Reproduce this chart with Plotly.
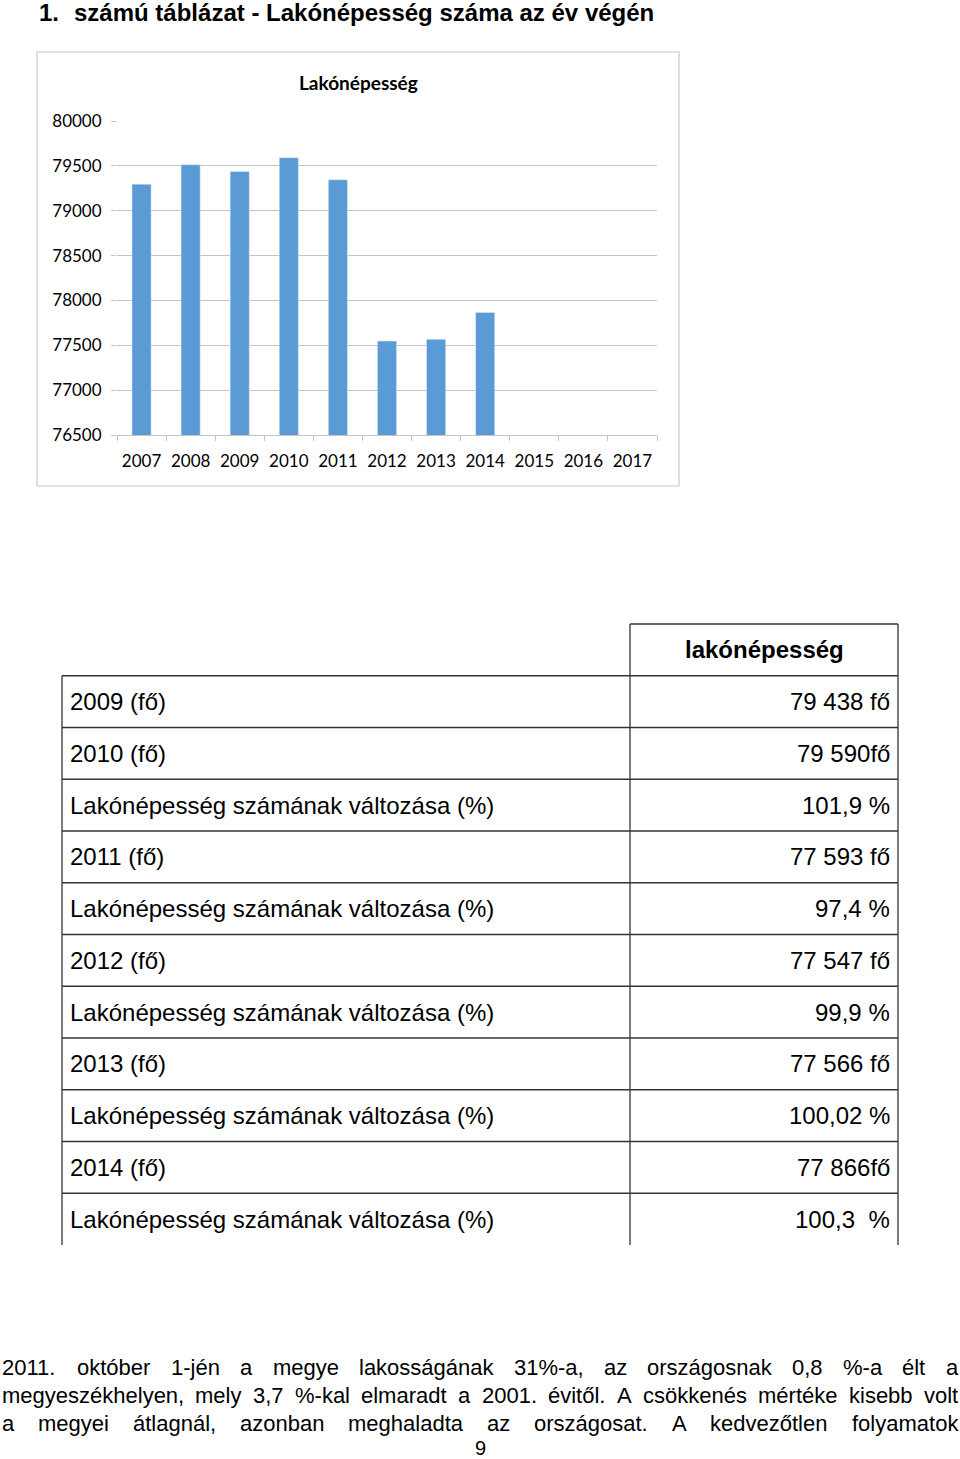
import plotly.graph_objects as go

# chart data
years = ['2007', '2008', '2009', '2010', '2011', '2012', '2013', '2014', '2015', '2016', '2017']
population = [79296, 79513, 79438, 79590, 79345, 77547, 77566, 77866, None, None, None]
y_ticks = [76500, 77000, 77500, 78000, 78500, 79000, 79500, 80000]
chart_title = 'Lakónépesség'

# table data
table_header = 'lakónépesség'
row_labels = ['2009 (fő)', '2010 (fő)', 'Lakónépesség számának változása (%)', '2011 (fő)',
              'Lakónépesség számának változása (%)', '2012 (fő)', 'Lakónépesség számának változása (%)',
              '2013 (fő)', 'Lakónépesség számának változása (%)', '2014 (fő)',
              'Lakónépesség számának változása (%)']
row_values = ['79 438 fő', '79 590fő', '101,9 %', '77 593 fő', '97,4 %', '77 547 fő', '99,9 %',
              '77 566 fő', '100,02 %', '77 866fő', '100,3  %']

# page text
page_title_num = '1.'
page_title = 'számú táblázat - Lakónépesség száma az év végén'
paragraph_lines = [
    '2011. október 1-jén a megye lakosságának 31%-a, az országosnak 0,8 %-a élt a',
    'megyeszékhelyen, mely 3,7 %-kal elmaradt a 2001. évitől. A csökkenés mértéke kisebb volt',
    'a megyei átlagnál, azonban meghaladta az országosat. A kedvezőtlen folyamatok',
]
page_number = '9'

W, H = 960, 1459
SANS = 'Liberation Sans, Arial, sans-serif'
CHART_FONT = 'Lato, Calibri, sans-serif'
GRID = '#C4C4C4'

# arial advance widths (per 1000 em) - used to justify the paragraph lines
ARIAL_W = {' ': 278, '.': 278, ',': 278, '-': 333, '%': 889, '(': 333, ')': 333,
           'a': 556, 'b': 556, 'c': 500, 'd': 556, 'e': 556, 'f': 278, 'g': 556, 'h': 556,
           'i': 222, 'j': 222, 'k': 500, 'l': 222, 'm': 833, 'n': 556, 'o': 556, 'p': 556,
           'q': 556, 'r': 333, 's': 500, 't': 278, 'u': 556, 'v': 500, 'w': 722, 'x': 500,
           'y': 500, 'z': 500, 'á': 556, 'é': 556, 'í': 278, 'ó': 556, 'ö': 556, 'ő': 556,
           'ú': 556, 'ü': 556, 'ű': 556, 'A': 667, 'L': 556}


def text_width(s, size):
    return sum(ARIAL_W.get(c, 556) for c in s) * size / 1000


def px(x):
    return x / W


def py(y):
    return 1 - y / H


def note(text, x, y, size, anchor='left', bold=False, family=SANS):
    if bold:
        text = '<b>' + text + '</b>'
    return dict(text=text, x=px(x), y=py(y), xref='paper', yref='paper', xanchor=anchor,
                yanchor='middle', showarrow=False, font=dict(family=family, size=size, color='black'))


def line(x0, y0, x1, y1, color='#333333', width=1.3):
    return dict(type='line', xref='paper', yref='paper', x0=px(x0), y0=py(y0), x1=px(x1), y1=py(y1),
                line=dict(color=color, width=width))


fig = go.Figure()
fig.add_trace(go.Bar(x=years, y=population, marker_color='#5B9BD5', width=0.39))

annotations = []
shapes = []

# page heading
annotations.append(note(page_title_num, 37, 13, 24, bold=True))
annotations.append(note(page_title, 72, 13, 24, bold=True))

# chart frame + title
shapes.append(dict(type='rect', xref='paper', yref='paper', x0=px(37), y0=py(486), x1=px(679), y1=py(52),
                   line=dict(color='#C8C8C8', width=1.2)))
annotations.append(note(chart_title, 358, 83, 19, anchor='center', bold=True, family=CHART_FONT))

# table
top, row_h = 624, 51.75
left, mid, right = 62, 630, 898
bottom = top + row_h * (len(row_labels) + 1)
shapes.append(line(mid, top, right, top))
shapes.append(line(mid, top, mid, bottom))
shapes.append(line(right, top, right, bottom))
shapes.append(line(left, top + row_h, left, bottom))
annotations.append(note(table_header, (mid + right) / 2, top + row_h / 2, 24, anchor='center', bold=True))
for i in range(len(row_labels)):
    y0 = top + row_h * (i + 1)
    shapes.append(line(left, y0, right, y0))
    annotations.append(note(row_labels[i], 68, y0 + row_h / 2, 24))
    annotations.append(note(row_values[i], 892, y0 + row_h / 2, 24, anchor='right'))

# paragraph, justified word by word
line_y = [1367, 1395, 1423]
for i, text in enumerate(paragraph_lines):
    words = text.split()
    widths = [text_width(w, 22) for w in words]
    gap = (956 - sum(widths)) / (len(words) - 1)
    x = 1
    for w, wd in zip(words, widths):
        a = note(w, x, line_y[i], 22)
        a['borderpad'] = 0
        annotations.append(a)
        x += wd + gap
num = note(page_number, 480, 1448, 20, anchor='center')
num['borderpad'] = 0
annotations.append(num)

fig.update_layout(
    width=W, height=H,
    margin=dict(l=0, r=0, t=0, b=0, autoexpand=False),
    paper_bgcolor='white', plot_bgcolor='white',
    showlegend=False,
    bargap=0.61,
    xaxis=dict(domain=[px(117), px(657)], type='category', range=[-0.5, 10.5], automargin=False,
               showline=True, linecolor=GRID, linewidth=1,
               ticks='outside', tickson='boundaries', ticklen=5, tickcolor=GRID,
               tickfont=dict(family=CHART_FONT, size=17, color='black'),
               showgrid=False, ticklabelstandoff=11),
    yaxis=dict(domain=[py(435), py(121)], range=[76500, 80000], tickvals=y_ticks, automargin=False,
               tickformat='d', showgrid=True, gridcolor=GRID, gridwidth=1,
               ticks='outside', ticklen=5, tickcolor=GRID, showline=False, zeroline=False,
               tickfont=dict(family=CHART_FONT, size=17, color='black'), ticklabelstandoff=6),
    annotations=annotations,
    shapes=shapes,
)

# the page is exactly the figure size, so drop the browser's default body margin
fig.write_html('out.html', config={'displayModeBar': False},
               post_script="document.body.style.margin='0px';")
